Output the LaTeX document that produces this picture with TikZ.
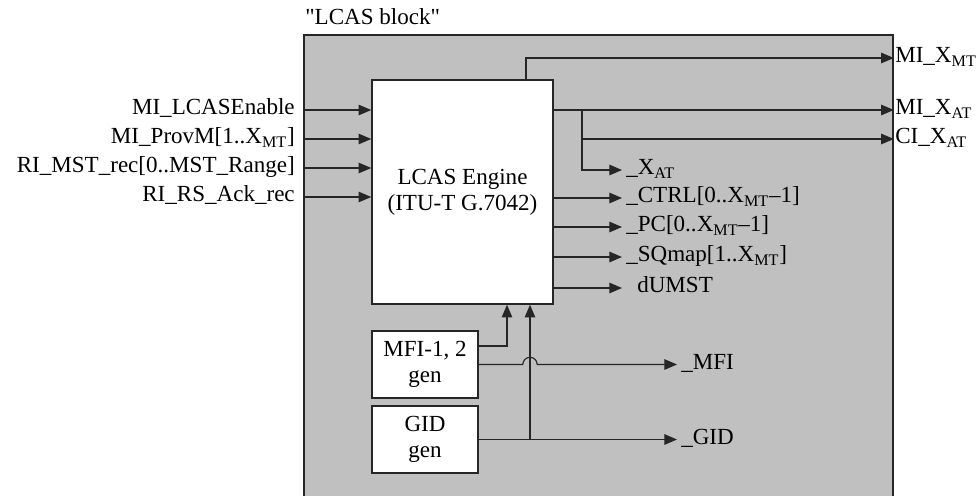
\documentclass[tikz,border=0pt]{standalone}
\usepackage{fontspec}
\setmainfont{Liberation Serif}
\definecolor{blockGray}{HTML}{C0C0C0}
\definecolor{lineDark}{HTML}{262626}
\usetikzlibrary{arrows.meta, positioning}

\begin{document}
\begin{tikzpicture}[
    box/.style={rectangle, draw=lineDark, line width=1.1pt, fill=white, align=center, font=\fontsize{16.4}{18.5}\selectfont},
    lbl/.style={inner sep=0pt, font=\fontsize{16.4}{18.5}\selectfont, text height=11pt, text depth=4pt},
    arr/.style={-{Triangle[length=9pt, width=7.5pt]}, line width=0.8pt, lineDark}
]
\useasboundingbox (0,0) rectangle (24.4,12.375);
\clip (0,0) rectangle (24.4,12.375);

% LCAS block
\node[box, fill=blockGray, minimum width=14.725cm, minimum height=12cm] (blk) at (14.9625,5.5) {};
\node[lbl, anchor=west] (title) at (7.625,11.875) {\textquotedbl LCAS block\textquotedbl};

% Engine and generators
\node[box, minimum width=4.525cm, minimum height=5.6cm] (eng) at (11.5625,7.575) {LCAS Engine\\(ITU-T G.7042)};
\node[box, minimum width=2.65cm, minimum height=1.675cm] (mfi) at (10.625,3.2625) {MFI-1, 2\\gen};
\node[box, minimum width=2.65cm, minimum height=1.675cm] (gid) at (10.625,1.3875) {GID\\gen};

% Inputs
\node[lbl, anchor=east] (lena) at (7.375,9.625) {MI\_LCASEnable};
\node[lbl, anchor=east] (prov) at (7.375,8.9) {MI\_ProvM[1..X\textsubscript{MT}]};
\node[lbl, anchor=east] (mst) at (7.375,8.175) {RI\_MST\_rec[0..MST\_Range]};
\node[lbl, anchor=east] (rsack) at (7.375,7.45) {RI\_RS\_Ack\_rec};

% Outputs
\node[lbl, anchor=west] (mxmt) at (22.375,10.925) {MI\_X\textsubscript{MT}};
\node[lbl, anchor=west] (mxat) at (22.375,9.625) {MI\_X\textsubscript{AT}};
\node[lbl, anchor=west] (cxat) at (22.375,8.9) {CI\_X\textsubscript{AT}};
\node[lbl, anchor=west] (xat) at (15.65,8.125) {\_X\textsubscript{AT}};
\node[lbl, anchor=west] (ctrl) at (15.65,7.425) {\_CTRL[0..X\textsubscript{MT}--1]};
\node[lbl, anchor=west] (pc) at (15.65,6.7) {\_PC[0..X\textsubscript{MT}--1]};
\node[lbl, anchor=west] (sqmap) at (15.65,5.95) {\_SQmap[1..X\textsubscript{MT}]};
\node[lbl, anchor=west] (dumst) at (15.925,5.175) {dUMST};
\node[lbl, anchor=west] (mfiout) at (17.025,3.2625) {\_MFI};
\node[lbl, anchor=west] (gidout) at (17.025,1.3875) {\_GID};

% Helper points
\coordinate (br) at (14.55,9.625);
\coordinate (tipR) at (15.55,0);
\coordinate (tipB) at (16.925,0);
\coordinate (jx) at (13.25,0);

% Arrows in
\draw[arr] (blk.west |- lena) -- (eng.west |- lena);
\draw[arr] (blk.west |- prov) -- (eng.west |- prov);
\draw[arr] (blk.west |- mst) -- (eng.west |- mst);
\draw[arr] (blk.west |- rsack) -- (eng.west |- rsack);

% Arrows out
\draw[arr] ([xshift=1.5875cm]eng.north) |- (blk.east |- mxmt);
\draw[arr] (eng.east |- mxat) -- (blk.east |- mxat);
\draw[arr] (br) |- (blk.east |- cxat);
\draw[arr] (br) |- (tipR |- xat);
\draw[arr] (eng.east |- ctrl) -- (tipR |- ctrl);
\draw[arr] (eng.east |- pc) -- (tipR |- pc);
\draw[arr] (eng.east |- sqmap) -- (tipR |- sqmap);
\draw[arr] (eng.east |- dumst) -- (tipR |- dumst);

% Generators
\draw[arr] ([yshift=0.4625cm]mfi.east) -| ([xshift=1.1125cm]eng.south);
\draw[arr] (gid.east -| jx) -- (eng.south -| jx);
\draw[arr] (gid.east) -- (tipB |- gidout);
\draw[arr] (mfi.east) -- ([xshift=-0.18cm]mfi.east -| jx) arc[start angle=180, end angle=0, radius=0.18cm] -- (tipB |- mfiout);

\end{tikzpicture}
\end{document}
